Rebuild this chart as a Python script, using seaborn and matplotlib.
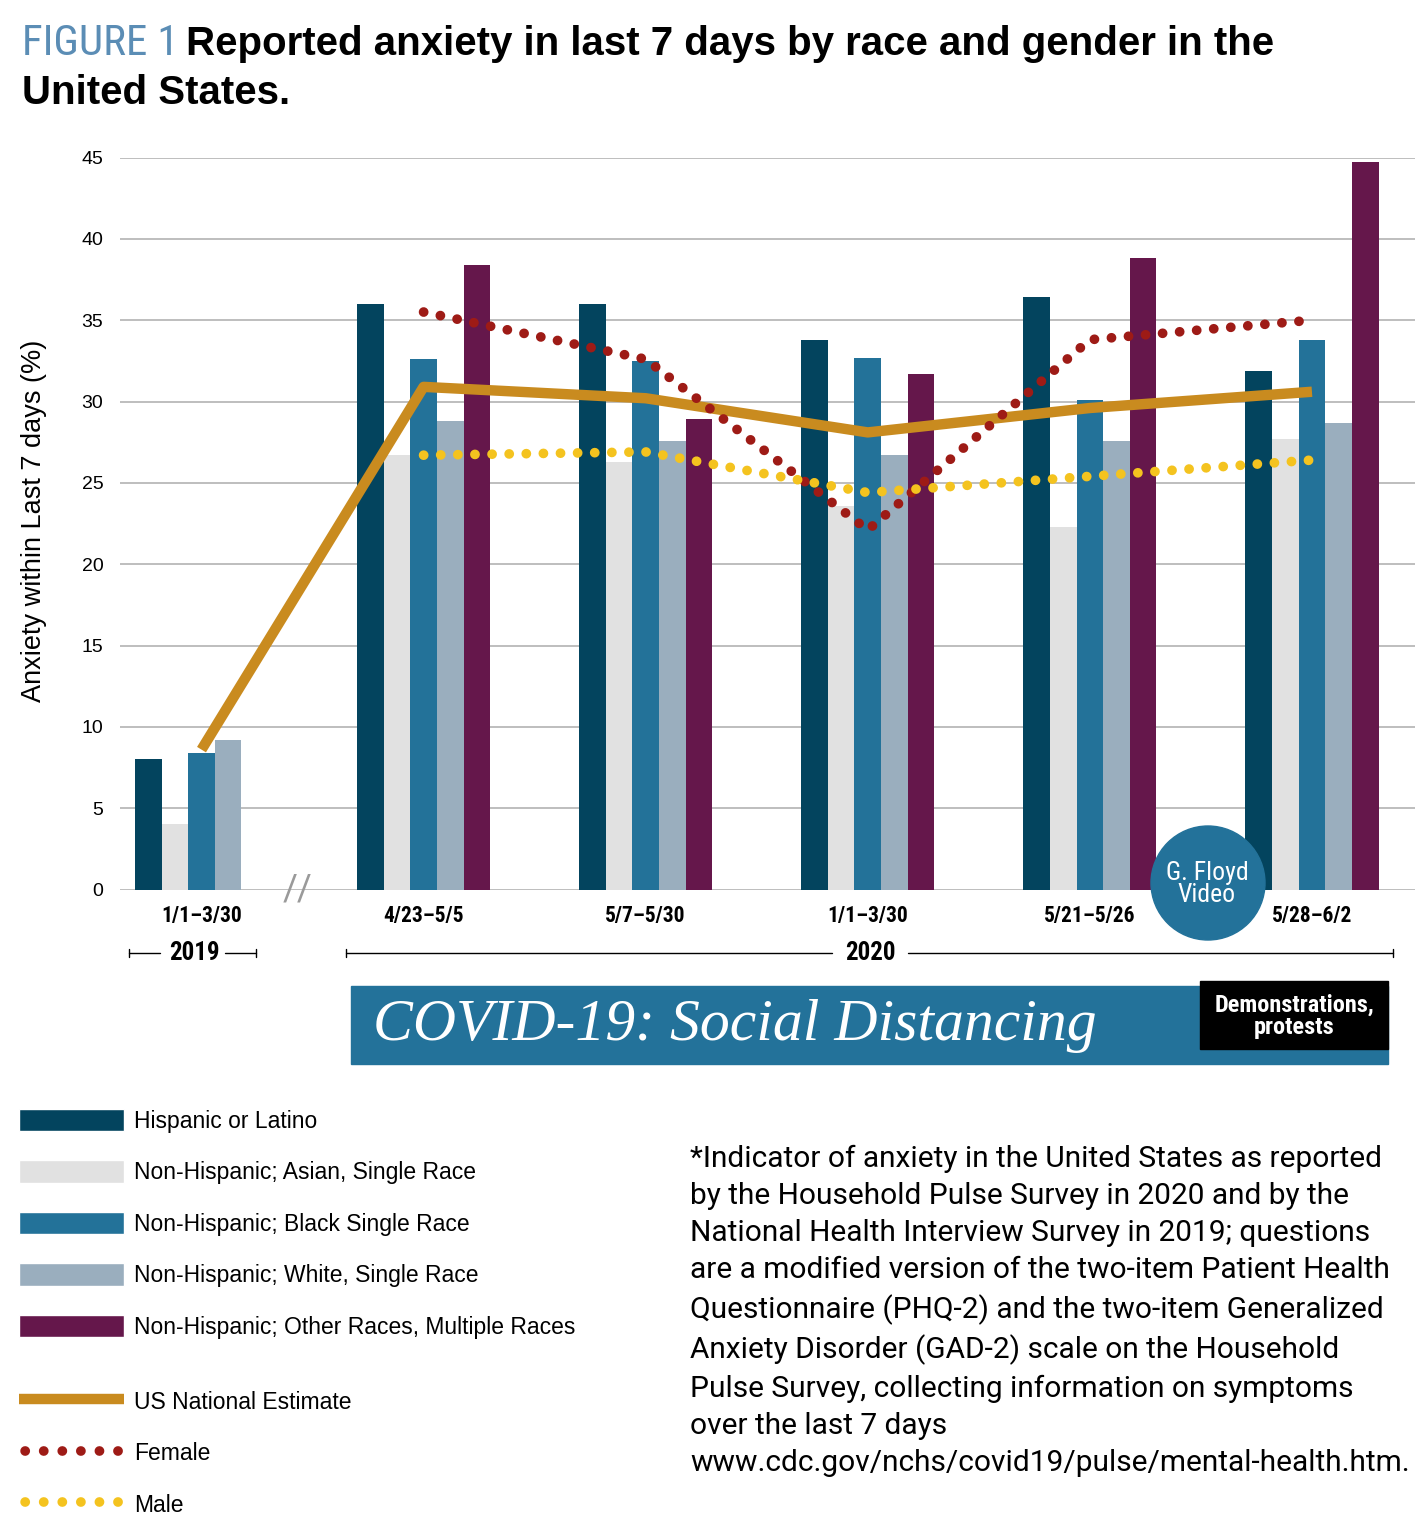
import numpy as np
import pandas as pd
import seaborn as sns
import matplotlib.pyplot as plt
from matplotlib import font_manager as fm
from matplotlib.patches import Patch, Rectangle, Ellipse
from matplotlib.lines import Line2D

# periods on the x axis (2019 baseline + 2020 survey weeks)
periods = ['1/1–3/30 (2019)', '4/23–5/5', '5/7–5/30', '1/1–3/30 (2020)', '5/21–5/26', '5/28–6/2']
tick_labels = ['1/1–3/30', '4/23–5/5', '5/7–5/30', '1/1–3/30', '5/21–5/26', '5/28–6/2']

groups = ['Hispanic or Latino',
          'Non-Hispanic; Asian, Single Race',
          'Non-Hispanic; Black Single Race',
          'Non-Hispanic; White, Single Race',
          'Non-Hispanic; Other Races, Multiple Races']

# bar values (%)
hispanic = [8.0, 36.0, 36.0, 33.8, 36.4, 31.9]
asian = [4.0, 26.7, 26.3, 23.6, 22.3, 27.7]
black = [8.4, 32.6, 32.5, 32.7, 30.1, 33.8]
white = [9.2, 28.8, 27.6, 26.7, 27.6, 28.7]
other = [np.nan, 38.4, 28.9, 31.7, 38.8, 44.7]

# line series (%)
us_estimate = [8.6, 30.9, 30.2, 28.1, 29.6, 30.6]
female = [35.5, 32.6, 22.1, 33.8, 35.0]   # 2020 periods only
male = [26.7, 26.9, 24.4, 25.4, 26.4]

palette = ['#03445e', '#e1e1e1', '#237299', '#9aaebe', '#65174b']
c_us, c_female, c_male = '#c98b1f', '#9e1b16', '#f4c31f'

# fonts
names = {f.name for f in fm.fontManager.ttflist}
def first(*cands):
    return next((c for c in cands if c in names), 'DejaVu Sans')
NARROW = first('Roboto Condensed', 'Liberation Sans Narrow', 'Open Sans Condensed', 'Roboto')
SANS = first('Liberation Sans', 'DejaVu Sans')
SERIF = first('Liberation Serif', 'DejaVu Serif')
LIGHT = first('Roboto', 'Liberation Sans')

sns.set_style('white')
plt.rcParams['font.family'] = [SANS, 'DejaVu Sans']
for k in ('text.color', 'axes.labelcolor', 'xtick.color', 'ytick.color'):
    plt.rcParams[k] = 'black'

df = pd.DataFrame({'period': periods, groups[0]: hispanic, groups[1]: asian,
                   groups[2]: black, groups[3]: white, groups[4]: other})
df = df.melt(id_vars='period', var_name='group', value_name='value').dropna()

W, H = 1428, 1522
fig = plt.figure(figsize=(W / 100, H / 100), dpi=100)
ax = fig.add_axes([120 / W, 1 - 889.5 / H, 1295 / W, 732 / H])

sns.barplot(data=df, x='period', y='value', hue='group', order=periods, hue_order=groups,
            palette=palette, saturation=1, width=0.6, errorbar=None, legend=False,
            linewidth=0, ax=ax)

dots = (0, (0.01, 1.75))
x_all = np.arange(len(periods))
sns.lineplot(x=x_all, y=us_estimate, color=c_us, linewidth=7.5, sort=False,
             solid_capstyle='butt', ax=ax)
sns.lineplot(x=x_all[1:], y=female, color=c_female, linewidth=7, sort=False,
             linestyle=dots, dash_capstyle='round', ax=ax)
sns.lineplot(x=x_all[1:], y=male, color=c_male, linewidth=7, sort=False,
             linestyle=dots, dash_capstyle='round', ax=ax)

ax.set_ylim(0, 45)
ax.set_xlim(-0.367, 5.464)
ax.set_yticks(range(0, 50, 5))
ax.yaxis.grid(True, color='#b3b3b3', linewidth=1.2)
ax.set_axisbelow(True)
sns.despine(ax=ax, left=True, bottom=True)
ax.tick_params(axis='y', length=0, pad=12, labelsize=14)
ax.tick_params(axis='x', length=0, pad=11)
ax.set_xticks(x_all)
ax.set_xticklabels(tick_labels, fontsize=15.5, fontweight='bold', family=NARROW)
ax.set_xlabel('')
ax.set_ylabel('Anxiety within Last 7 days (%)', fontsize=19.5)
ax.yaxis.set_label_coords(-0.056, 0.503)

# axis break marker
ax.text(0.434, 0, '//', color='#9a9a9a', fontsize=26, ha='center', va='center',
        family=LIGHT, clip_on=False)

# year brackets under the tick labels
tr = ax.get_xaxis_transform()
yb = -0.0867
for (x0, g0, g1, x1, xt, lab) in [(-0.326, -0.187, 0.106, 0.245, -0.034, '2019'),
                                  (0.651, 2.839, 3.181, 5.365, 3.01, '2020')]:
    ax.plot([x0, g0], [yb, yb], color='black', lw=1, transform=tr, clip_on=False)
    ax.plot([g1, x1], [yb, yb], color='black', lw=1, transform=tr, clip_on=False)
    for xe in (x0, x1):
        ax.plot([xe, xe], [yb - 0.006, yb + 0.006], color='black', lw=1, transform=tr, clip_on=False)
    ax.text(xt, yb, lab, transform=tr, ha='center', va='center', fontsize=18,
            fontweight='bold', family=NARROW)

def fx(px):
    return px / W

def fy(py):
    return 1 - py / H

# G. Floyd marker
fig.add_artist(Ellipse((fx(1208), fy(883)), 114 / W, 114 / H, transform=fig.transFigure,
                       color='#23729a', zorder=5))
fig.text(fx(1207), fy(884), 'G. Floyd\nVideo', color='white', ha='center', va='center',
         fontsize=18.5, family=NARROW, linespacing=0.9, zorder=6)

# banner
fig.add_artist(Rectangle((fx(351), fy(1064)), 1037 / W, 78 / H, transform=fig.transFigure,
                         color='#23729a'))
fig.text(fx(373), fy(1026), 'COVID-19: Social Distancing', color='white', fontsize=43,
         style='italic', family=SERIF, va='center')
fig.add_artist(Rectangle((fx(1200), fy(1049)), 188 / W, 68 / H, transform=fig.transFigure,
                         color='black'))
fig.text(fx(1294), fy(1016), 'Demonstrations,\nprotests', color='white', fontsize=17.5,
         family=NARROW, fontweight='bold', ha='center', va='center', linespacing=0.95)

# title
fig.text(fx(22), fy(55), 'FIGURE 1', color='#5b8db5', fontsize=31, family=NARROW,
         va='baseline')
fig.text(fx(186), fy(55), 'Reported anxiety in last 7 days by race and gender in the',
         fontsize=29, fontweight='bold', va='baseline')
fig.text(fx(22), fy(104), 'United States.', fontsize=29, fontweight='bold', va='baseline')

# legends
fs = 16.5
leg_kw = dict(loc='upper left', frameon=False, fontsize=fs, handlelength=4.58,
              handleheight=1.13, labelspacing=1.2, handletextpad=0.44,
              borderpad=0, borderaxespad=0)
patch_handles = [Patch(facecolor=c, label=g) for c, g in zip(palette, groups)]
fig.legend(handles=patch_handles, bbox_to_anchor=(fx(19), fy(1109)), **leg_kw)
leg_dots = (1.28, (0.01, 1.9))
line_handles = [Line2D([], [], color=c_us, lw=7.5, solid_capstyle='butt', label='US National Estimate'),
                Line2D([], [], color=c_female, lw=7, linestyle=leg_dots,
                       dash_capstyle='round', label='Female'),
                Line2D([], [], color=c_male, lw=7, linestyle=leg_dots,
                       dash_capstyle='round', label='Male')]
fig.legend(handles=line_handles, bbox_to_anchor=(fx(19), fy(1390)), **leg_kw)

# footnote
note = ('*Indicator of anxiety in the United States as reported\n'
        'by the Household Pulse Survey in 2020 and by the\n'
        'National Health Interview Survey in 2019; questions\n'
        'are a modified version of the two-item Patient Health\n'
        'Questionnaire (PHQ-2) and the two-item Generalized\n'
        'Anxiety Disorder (GAD-2) scale on the Household\n'
        'Pulse Survey, collecting information on symptoms\n'
        'over the last 7 days\n'
        'www.cdc.gov/nchs/covid19/pulse/mental-health.htm.')
fig.text(fx(690), fy(1145), note, fontsize=21.5, family=LIGHT, fontweight='normal',
         va='top', linespacing=1.41)

fig.savefig('out.png', dpi=100)
